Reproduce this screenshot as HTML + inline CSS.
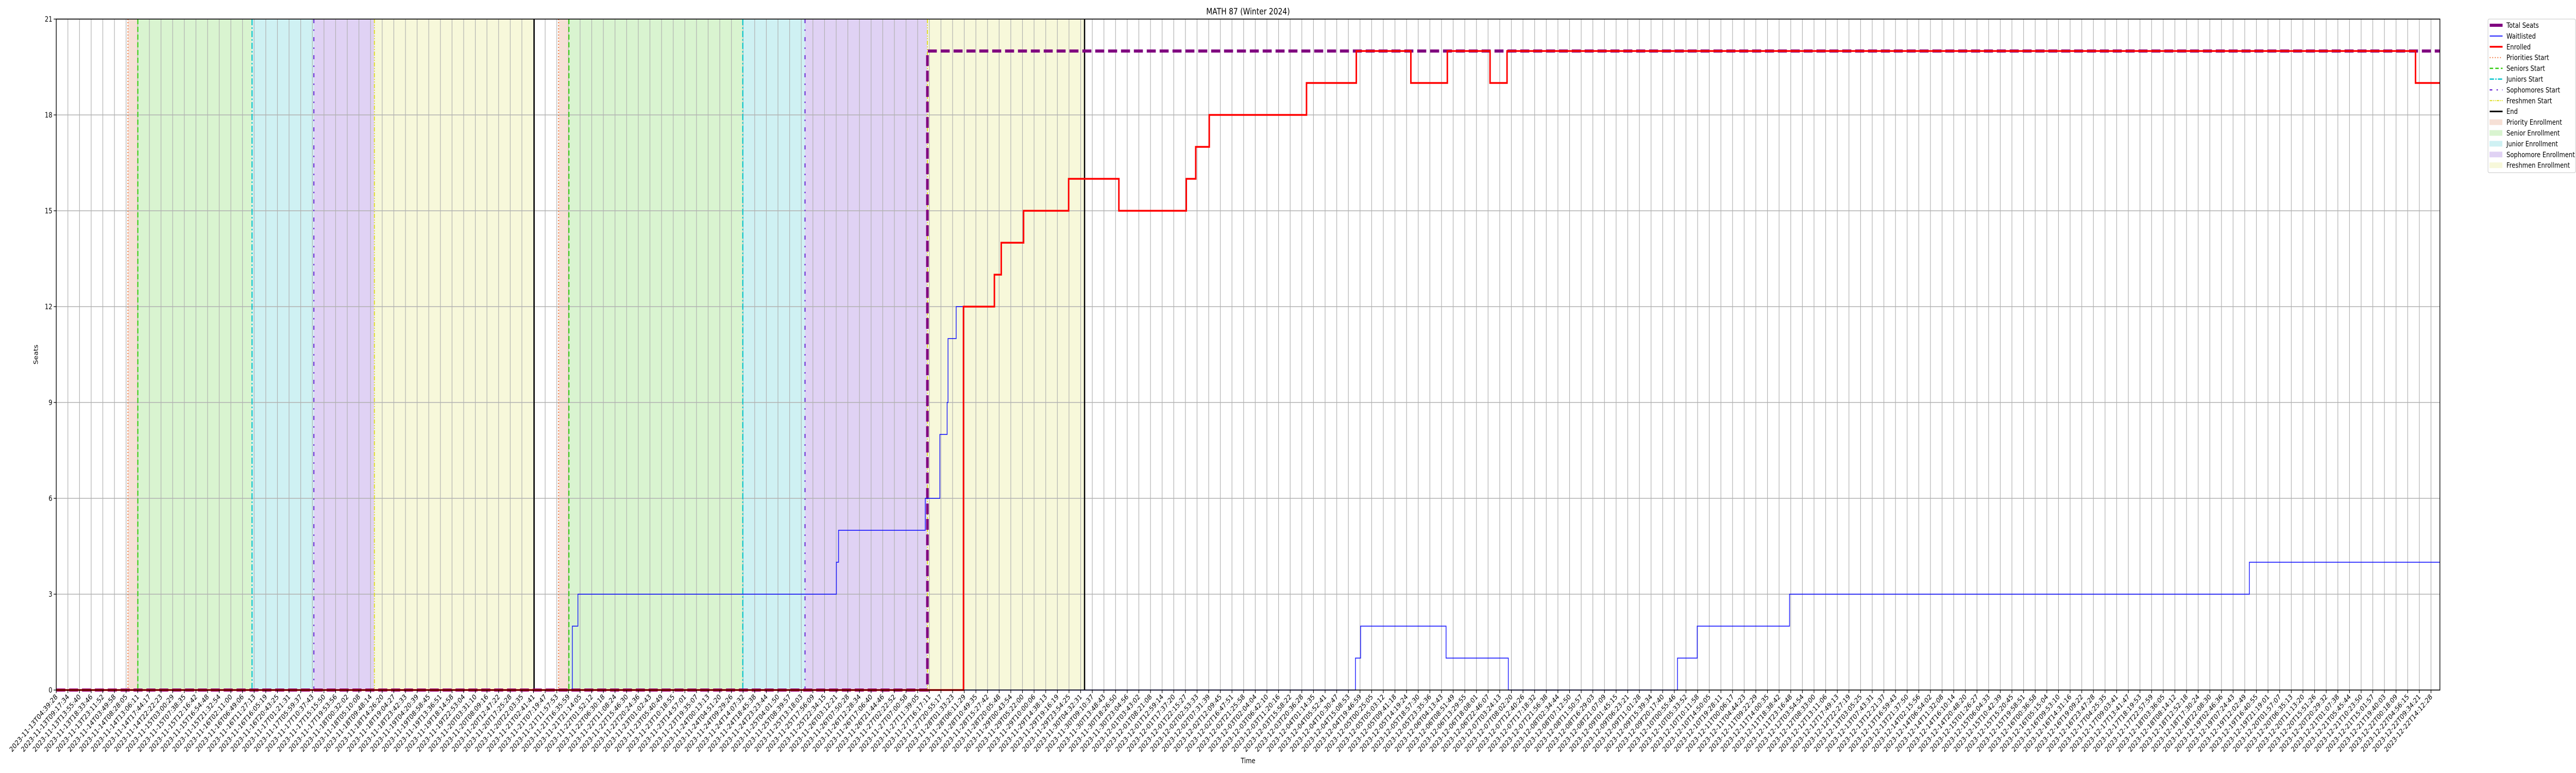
<!DOCTYPE html>
<html><head><meta charset="utf-8">
<style>
html,body{margin:0;padding:0;background:#fff;width:100%;height:100%;overflow:hidden;}
svg{display:block;position:absolute;left:0;top:0;width:100vw;height:100vh;overflow:hidden;font-family:"DejaVu Sans","Liberation Sans",sans-serif;}
</style></head>
<body>
<svg id="chart" viewBox="0 0 6000 1500" preserveAspectRatio="none" xmlns="http://www.w3.org/2000/svg">
<rect x="0" y="0" width="6000" height="1500" fill="#fff"/>
<g id="spans"></g>
<g id="grid"></g>
<g id="vlines"></g>
<g id="series"></g>
<rect x="131" y="37" width="5552" height="1302" fill="none" stroke="#000" stroke-width="1.6"/>
<g id="axes"></g>
<text x="2907" y="28" font-size="16.7" text-anchor="middle">MATH 87 (Winter 2024)</text>
<text x="2907" y="1481" font-size="13.9" text-anchor="middle">Time</text>
<text x="0" y="0" font-size="13.9" text-anchor="middle" transform="translate(88,688) rotate(-90)">Seats</text>
<g id="legend"></g>
</svg>
<script>
// ---- data (hours since 2023-11-13T04:39:28) ----
const phaseNames = ["priority1","senior1","junior1","soph1","fresh1","priority2","senior2","junior2","soph2","fresh2"];
const phaseStarts = [28.55, 32.48, 77.96, 102.57, 126.68, 200.02, 204.12, 273.36, 298.14, 346.87];
const phaseEnds   = [32.48, 77.96, 102.57, 126.68, 190.27, 204.12, 273.36, 298.14, 346.87, 409.44];
const endTimes = [190.27, 409.44];
const waitTimes  = [0, 205.49, 207.71, 310.63, 311.49, 346.02, 351.83, 354.73, 355.08, 358.32, 361.23, 517.31, 519.36, 553.38, 578.17, 645.53, 653.39, 690.15, 873.24];
const waitValues = [0, 2, 3, 4, 5, 6, 8, 9, 11, 12, 0, 1, 2, 1, 0, 1, 2, 3, 4];
const enrTimes  = [0, 361.23, 373.54, 376.27, 385.16, 403.11, 423.11, 449.95, 453.71, 459.09, 497.82, 517.65, 539.37, 553.89, 570.90, 577.66, 939.39];
const enrValues = [0, 12, 13, 14, 15, 16, 15, 16, 17, 18, 19, 20, 19, 20, 19, 20, 19];
const seatTimes  = [0, 346.87];
const seatValues = [0, 20];
const yTicks = [0, 3, 6, 9, 12, 15, 18, 21];
const tickCount = 205;
const lastTickHour = 945.55;
const startDateMs = Date.UTC(2023,10,13,4,39,28);

// ---- scales ----
const X0=131, X1=5683, Y0=1339, Y1=37, HMAX=949.1, YMAX=21;
const xs = h => X0 + h*(X1-X0)/HMAX;
const ys = v => Y0 - v*(Y0-Y1)/YMAX;
const NS="http://www.w3.org/2000/svg";
function mk(tag, attrs, parent){
  const e=document.createElementNS(NS,tag);
  for(const k in attrs) e.setAttribute(k, attrs[k]);
  parent.appendChild(e); return e;
}
const spanColors={priority:"#f6e0d6",senior:"#d9f4d0",junior:"#cff1f3",soph:"#e0d2f4",fresh:"#f7f8da"};
const lineStyles={
  priority:{c:"#ee6a2a",d:"2,4",w:2.2},
  senior:{c:"#33cc11",d:"10,5",w:2.5},
  junior:{c:"#00c4cc",d:"12,4,3,4",w:2.5},
  soph:{c:"#6a28d4",d:"8,12,3,12",w:2.5},
  fresh:{c:"#dddd22",d:"8,3,2,3,2,3",w:2.2}
};
const gS=document.getElementById('spans');
for(let i=0;i<phaseNames.length;i++){
  const key=phaseNames[i].replace(/\d/,'');
  const r=mk('rect',{x:xs(phaseStarts[i]),y:Y1,width:xs(phaseEnds[i])-xs(phaseStarts[i]),height:Y0-Y1,fill:spanColors[key]},gS);
  
  
}
const gG=document.getElementById('grid'), gA=document.getElementById('axes');
for(let i=0;i<tickCount;i++){
  const h=i*lastTickHour/(tickCount-1), x=xs(h);
  const l=mk('line',{x1:x,x2:x,y1:Y1,y2:Y0,stroke:"#b0b0b0","stroke-width":1.4},gG);
  
  
  mk('line',{x1:x,x2:x,y1:Y0,y2:Y0+6,stroke:"#000","stroke-width":1.3},gA);
  const d=new Date(startDateMs+h*3600000);
  const p=n=>String(n).padStart(2,'0');
  const lab=d.getUTCFullYear()+"-"+p(d.getUTCMonth()+1)+"-"+p(d.getUTCDate())+"T"+p(d.getUTCHours())+":"+p(d.getUTCMinutes())+":"+p(d.getUTCSeconds());
  const t=mk('text',{x:0,y:0,"font-size":13.9,"text-anchor":"end",transform:`translate(${x+4},${Y0+14}) rotate(-45)`},gA);
  t.textContent=lab;
  
  
}
for(const v of yTicks){
  const y=ys(v);
  const l=mk('line',{x1:X0,x2:X1,y1:y,y2:y,stroke:"#b0b0b0","stroke-width":1.4},gG);
  
  
  mk('line',{x1:X0-6,x2:X0,y1:y,y2:y,stroke:"#000","stroke-width":1.3},gA);
  const t=mk('text',{x:X0-9,y:y+5,"font-size":13.9,"text-anchor":"end"},gA);
  t.textContent=v;
  
  
}
const gV=document.getElementById('vlines');
for(let i=0;i<phaseNames.length;i++){
  const key=phaseNames[i].replace(/\d/,''), s=lineStyles[key], x=xs(phaseStarts[i]);
  const l=mk('line',{x1:x,x2:x,y1:Y1,y2:Y0,stroke:s.c,"stroke-width":s.w,"stroke-dasharray":s.d},gV);
  
  
}
for(const h of endTimes){
  const l=mk('line',{x1:xs(h),x2:xs(h),y1:Y1,y2:Y0,stroke:"#000","stroke-width":3},gV);
  
  
}
function stepPath(ts, vs){
  let d=`M${xs(ts[0])},${ys(vs[0])}`;
  for(let i=1;i<ts.length;i++){ d+=` L${xs(ts[i])},${ys(vs[i-1])} L${xs(ts[i])},${ys(vs[i])}`; }
  d+=` L${xs(HMAX)},${ys(vs[vs.length-1])}`;
  return d;
}
const gR=document.getElementById('series');
const seat=mk('path',{d:stepPath(seatTimes,seatValues),fill:"none",stroke:"#800080","stroke-width":6,"stroke-dasharray":"21,9"},gR);


const wl=mk('path',{d:stepPath(waitTimes,waitValues),fill:"none",stroke:"#0000ff","stroke-width":1.8,"stroke-opacity":0.85},gR);


const en=mk('path',{d:stepPath(enrTimes,enrValues),fill:"none",stroke:"#ff0000","stroke-width":3.5},gR);


const gL=document.getElementById('legend');
mk('rect',{x:5795,y:37,width:204,height:298,rx:3,fill:"#fff",stroke:"#d0d0d0","stroke-width":1.3},gL);
const legItems=[
  ["Total Seats","line","#800080",6,"none"],
  ["Waitlisted","line","#0000ff",1.8,"none"],
  ["Enrolled","line","#ff0000",3.5,"none"],
  ["Priorities Start","line","#ee6a2a",2,"2,4"],
  ["Seniors Start","line","#33cc11",2.5,"8,5"],
  ["Juniors Start","line","#00c4cc",2.5,"10,3,3,3"],
  ["Sophomores Start","line","#6a28d4",2.5,"6,10,3,10"],
  ["Freshmen Start","line","#dddd22",2,"6,2,2,2,2,2"],
  ["End","line","#000",3,"none"],
  ["Priority Enrollment","patch","#f6e0d6"],
  ["Senior Enrollment","patch","#d9f4d0"],
  ["Junior Enrollment","patch","#cff1f3"],
  ["Sophomore Enrollment","patch","#e0d2f4"],
  ["Freshmen Enrollment","patch","#f7f8da"]
];
legItems.forEach((it,i)=>{
  const y=49+i*20.9;
  const g=mk('g',{},gL);
  
  
  if(it[1]==="line"){
    mk('line',{x1:5799,x2:5829,y1:y,y2:y,stroke:it[2],"stroke-width":it[3],"stroke-dasharray":it[4]},g);
  } else {
    mk('rect',{x:5799,y:y-5,width:29,height:10,fill:it[2],stroke:it[2]},g);
  }
  const t=mk('text',{x:5838,y:y+5,"font-size":13.9},g);
  t.textContent=it[0];
});
</script>
</body></html>
